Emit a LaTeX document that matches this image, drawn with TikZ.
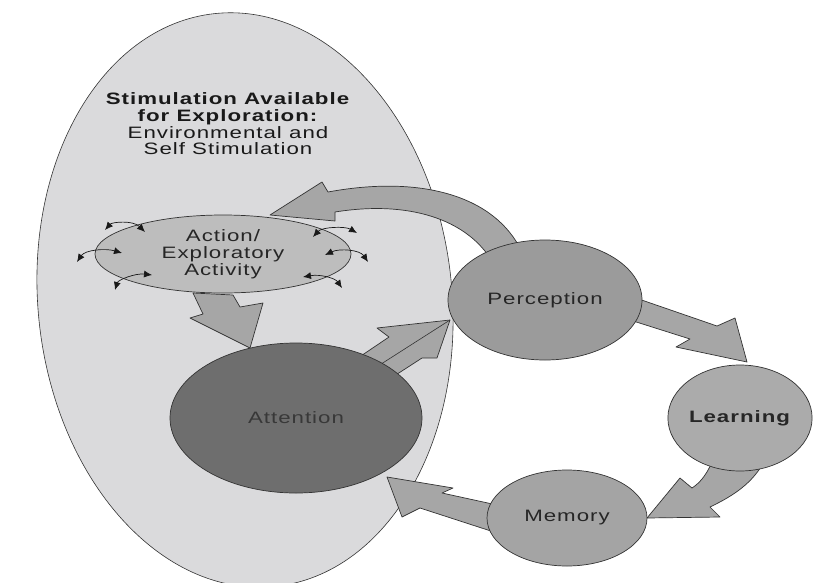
\documentclass[tikz,border=0pt]{standalone}
\usepackage{fontspec}
\setmainfont{Liberation Sans}[FakeStretch=1.35,LetterSpace=6]
\usetikzlibrary{shapes.geometric,arrows.meta}

\definecolor{fieldgray}{HTML}{DADADC}
\definecolor{actiongray}{HTML}{BDBDBD}
\definecolor{attngray}{HTML}{6E6E6E}
\definecolor{percgray}{HTML}{9B9B9B}
\definecolor{learngray}{HTML}{ABABAB}
\definecolor{memgray}{HTML}{A4A4A4}
\definecolor{arrowgray}{HTML}{A6A6A6}
\definecolor{inkgray}{HTML}{333333}

\begin{document}
\begin{tikzpicture}[x=1pt,y=-1pt,
  blob/.style={ellipse, draw=inkgray, line width=0.7pt, inner sep=0pt,
    font=\fontsize{16.5}{17}\selectfont, text=black!85, align=center},
  block/.style={fill=arrowgray, draw=inkgray, line width=0.7pt, line join=round},
  wiggle/.style={line width=0.7pt, draw=black!90,
    {Latex[length=8pt,width=7pt]}-{Latex[length=8pt,width=7pt]}},
]
\useasboundingbox (0,0) rectangle (836,582);
\clip (0,0) rectangle (836,582);

% field of available stimulation
\node[ellipse, draw=inkgray, fill=fieldgray, line width=0.6pt, inner sep=0pt,
  minimum width=414pt, minimum height=576pt, rotate=6] (field) at (245,300) {};

\node[font=\fontsize{16.5}{16.7}\selectfont, text=black!90, align=center] (title) at (228,124)
  {\textbf{Stimulation Available}\\ \textbf{for Exploration:}\\ Environmental and\\ Self Stimulation};

% block arrows of the cycle
\draw[block] (193,293) -- (233,295) -- (240,307) -- (263,303) -- (250,348)
  -- (190,318) -- (203,314) -- cycle;
\draw[block] (352,362) -- (389,337) -- (377,328) -- (450,320) -- (437,358)
  -- (422,358) -- (388,380) -- cycle;
\draw[inkgray, line width=0.6pt] (378,366) -- (450,320);
\draw[block] (490,258) .. controls (465,220) and (410,200) .. (335,212)
  -- (335,221) -- (270,215) -- (322,182) -- (328,192)
  .. controls (420,175) and (495,195) .. (522,252) -- cycle;
\draw[block] (630,296) -- (717,326) -- (735,318) -- (747,362) -- (676,347)
  -- (690,339) -- (630,320) -- cycle;
\draw[block] (712,462) .. controls (705,478) and (698,484) .. (692,488)
  -- (680,478) -- (647,518) -- (720,517) -- (710,507)
  .. controls (735,495) and (752,483) .. (764,462) -- cycle;
\draw[block] (497,505) -- (442,493) -- (453,488) -- (387,477) -- (402,517)
  -- (420,508) -- (497,533) -- cycle;

% stages
\node[blob, fill=actiongray, minimum width=256pt, minimum height=78pt] (action) at (223,254)
  {Action/\\ Exploratory\\ Activity};
\node[blob, fill=attngray, minimum width=252pt, minimum height=150pt, text=black!78] (attention) at (296,418) {Attention};
\node[blob, fill=percgray, minimum width=194pt, minimum height=120pt] (perception) at (545,300) {Perception};
\node[blob, fill=learngray, minimum width=144pt, minimum height=106pt] (learning) at (740,418) {\textbf{Learning}};
\node[blob, fill=memgray, minimum width=160pt, minimum height=96pt] (memory) at (567,518) {Memory};

% exploratory movements across the action boundary
\draw[wiggle] (105,230) .. controls (112,222) and (133,220) .. (145,232);
\draw[wiggle] (77,262) .. controls (85,250) and (105,248) .. (122,253);
\draw[wiggle] (115,290) .. controls (118,280) and (135,273) .. (152,275);
\draw[wiggle] (313,237) .. controls (322,227) and (345,226) .. (357,233);
\draw[wiggle] (325,255) .. controls (340,248) and (360,250) .. (368,262);
\draw[wiggle] (303,277) .. controls (320,274) and (335,278) .. (342,288);
\end{tikzpicture}
\end{document}
